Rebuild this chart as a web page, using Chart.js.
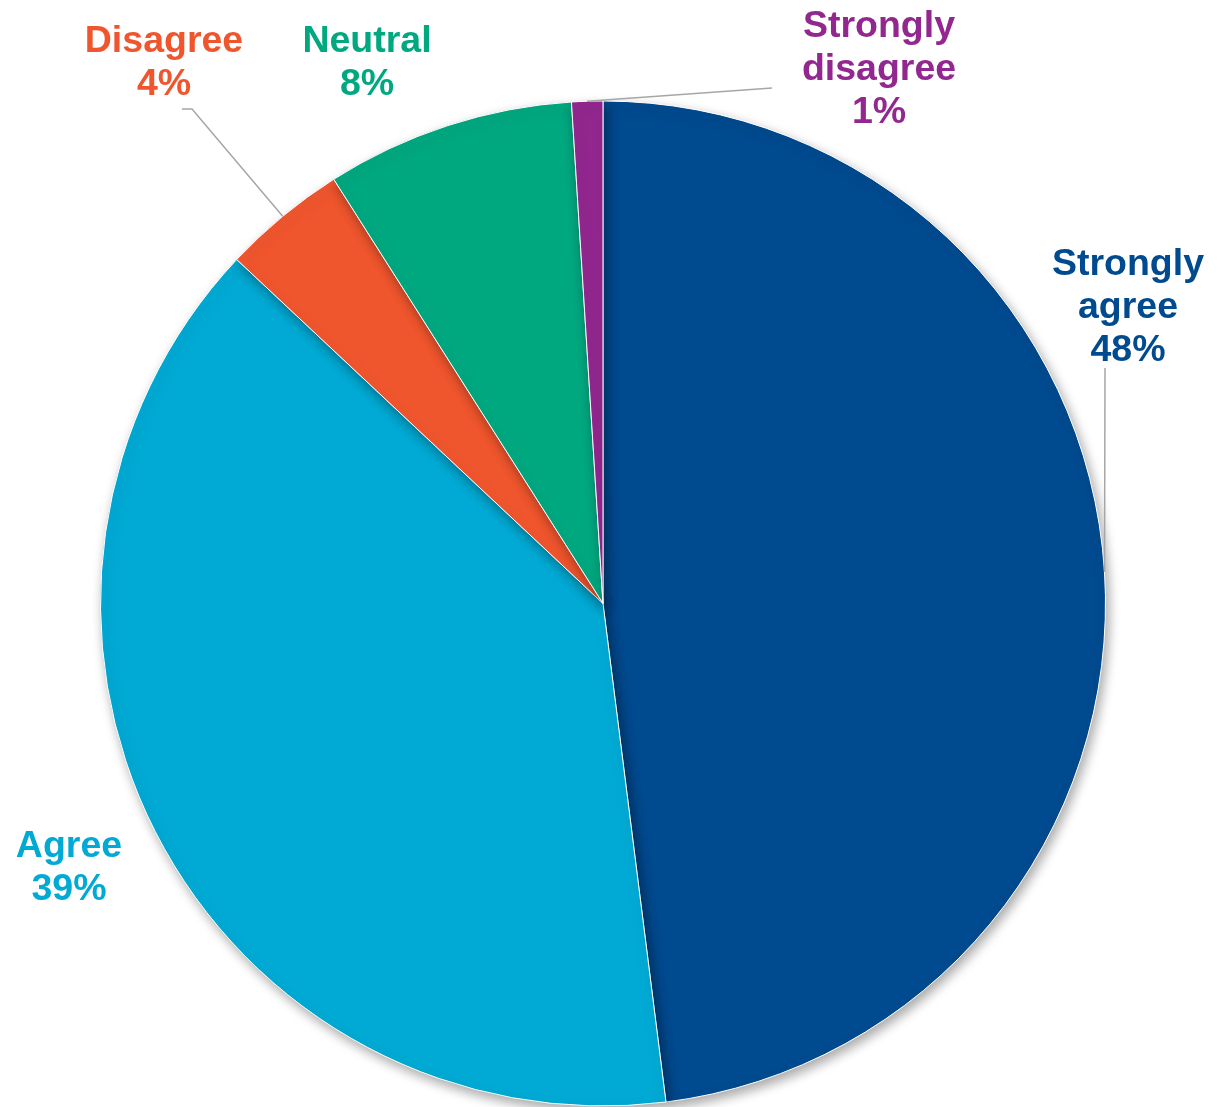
<!DOCTYPE html>
<html>
<head>
<meta charset="utf-8">
<script src="https://cdn.jsdelivr.net/npm/chart.js@4"></script>
<style>
  html, body { margin: 0; padding: 0; background: #fff; }
  #wrap { width: 1230px; height: 1107px; position: relative; }
</style>
</head>
<body>
<div id="wrap"><canvas id="pieChart"></canvas></div>
<script>
const categories = ['Strongly agree', 'Agree', 'Disagree', 'Neutral', 'Strongly disagree'];
const percents = [48, 39, 4, 8, 1];
const colors = ['#004a8f', '#00aad4', '#f0562e', '#00a880', '#92278f'];

// label layout: centre x, first baseline, lines; leader start point (null = no line)
const labelLayout = [
    { x: 1128, y: 275, lines: ['Strongly', 'agree'], leader: [1105, 368] },
    { x: 69, y: 857, lines: ['Agree'], leader: null },
    { x: 164, y: 52, lines: ['Disagree'], leader: [182, 109, 192, 109] },
    { x: 367, y: 52, lines: ['Neutral'], leader: null },
    { x: 879, y: 37, lines: ['Strongly', 'disagree'], leader: [772, 88] }
];

const shadowPlugin = {
    id: 'pieShadow',
    beforeDatasetDraw(chart) {
        const ctx = chart.ctx;
        ctx.save();
        ctx.shadowColor = 'rgba(0,0,0,0.35)';
        ctx.shadowBlur = 12;
        ctx.shadowOffsetX = 3;
        ctx.shadowOffsetY = 5;
    },
    afterDatasetDraw(chart) {
        chart.ctx.restore();
    }
};

const labelPlugin = {
    id: 'pieLabels',
    afterDatasetsDraw(chart) {
        const ctx = chart.ctx;
        const arcs = chart.getDatasetMeta(0).data;
        ctx.save();
        ctx.font = 'bold 37.5px "Liberation Sans", Arial, sans-serif';
        ctx.textAlign = 'center';
        ctx.textBaseline = 'alphabetic';
        arcs.forEach((arc, i) => {
            const lay = labelLayout[i];
            const p = arc.getProps(['x', 'y', 'startAngle', 'endAngle', 'outerRadius'], true);
            if (lay.leader) {
                const mid = (p.startAngle + p.endAngle) / 2;
                const ex = p.x + Math.cos(mid) * p.outerRadius;
                const ey = p.y + Math.sin(mid) * p.outerRadius;
                ctx.strokeStyle = '#a6a6a6';
                ctx.lineWidth = 1.5;
                ctx.beginPath();
                ctx.moveTo(lay.leader[0], lay.leader[1]);
                for (let k = 2; k < lay.leader.length; k += 2) {
                    ctx.lineTo(lay.leader[k], lay.leader[k + 1]);
                }
                ctx.lineTo(ex, ey);
                ctx.stroke();
            }
            ctx.fillStyle = colors[i];
            const lines = lay.lines.concat([percents[i] + '%']);
            lines.forEach((t, j) => ctx.fillText(t, lay.x, lay.y + j * 43));
        });
        ctx.restore();
    }
};

new Chart(document.getElementById('pieChart'), {
    type: 'pie',
    data: {
        labels: categories,
        datasets: [{
            data: percents,
            backgroundColor: colors,
            borderColor: '#ffffff',
            borderWidth: 1
        }]
    },
    options: {
        responsive: true,
        maintainAspectRatio: false,
        animation: false,
        layout: { padding: { left: 100, right: 124, top: 100, bottom: 0 } },
        plugins: {
            legend: { display: false },
            tooltip: { enabled: false }
        }
    },
    plugins: [shadowPlugin, labelPlugin]
});
</script>
</body>
</html>
